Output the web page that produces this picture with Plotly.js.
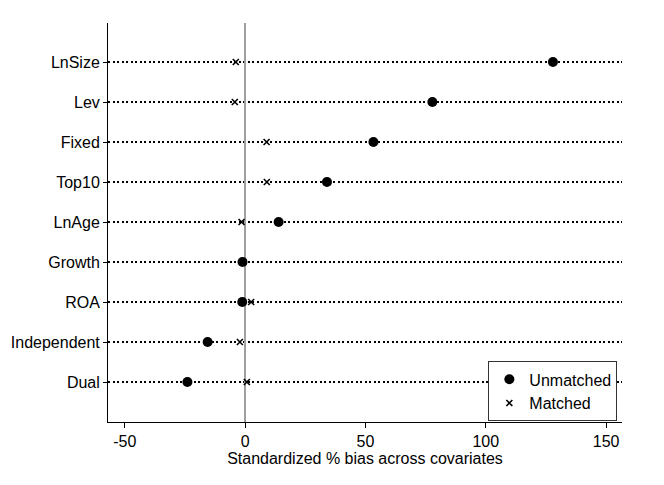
<!DOCTYPE html>
<html>
<head>
<meta charset="utf-8">
<script src="https://cdn.plot.ly/plotly-3.0.1.min.js"></script>
<style>html,body{margin:0;padding:0;background:#fff;}#chart{width:664px;height:485px;}</style>
</head>
<body>
<div id="chart"></div>
<script>
const covariates = ["LnSize", "Lev", "Fixed", "Top10", "LnAge", "Growth", "ROA", "Independent", "Dual"];
const unmatched = [127.9, 77.8, 53.3, 34.0, 13.9, -1.1, -1.2, -15.6, -24.0];
const matched = [-3.9, -4.3, 8.9, 9.0, -1.5, -0.8, 2.5, -2.2, 0.7];
const xTicks = [-50, 0, 50, 100, 150];

const fam = "Liberation Sans, Arial, Helvetica, sans-serif";
const font = {family: fam, size: 16, color: "#000"};

const traces = [
  {
    type: "scatter", mode: "markers", name: "Unmatched",
    x: unmatched, y: covariates,
    marker: {symbol: "circle", size: 10, color: "#000"},
    cliponaxis: false
  },
  {
    type: "scatter", mode: "markers", name: "Matched",
    x: matched, y: covariates,
    marker: {symbol: "x-thin", size: 6, color: "#000", line: {width: 1.6, color: "#000"}},
    cliponaxis: false
  }
];

const layout = {
  width: 664, height: 485,
  margin: {l: 108, r: 42, t: 23, b: 63},
  paper_bgcolor: "#fff", plot_bgcolor: "#fff",
  font: font,
  showlegend: true,
  legend: {
    x: 0.74, y: 0.152, xanchor: "left", yanchor: "top",
    bgcolor: "#fff", bordercolor: "#333", borderwidth: 1,
    font: {family: fam, size: 16, color: "#000"},
    itemwidth: 30,
    tracegroupgap: 0
  },
  xaxis: {
    range: [-57, 156.6],
    tickvals: xTicks,
    ticktext: xTicks.map(String),
    ticks: "outside", ticklen: 5, tickwidth: 1, tickcolor: "#000",
    showline: true, linecolor: "#000", linewidth: 1,
    showgrid: false,
    zeroline: true, zerolinecolor: "#a0a0a0", zerolinewidth: 1.5,
    tickfont: {family: fam, size: 16, color: "#000"},
    title: {text: "Standardized % bias across covariates", font: {family: fam, size: 16, color: "#000"}, standoff: 2}
  },
  yaxis: {
    type: "category",
    categoryorder: "array", categoryarray: covariates,
    range: [9.0, -0.975],
    ticks: "outside", ticklen: 4, tickwidth: 1, tickcolor: "#000",
    showline: true, linecolor: "#000", linewidth: 1,
    showgrid: true, gridcolor: "#000", gridwidth: 2, griddash: "2px,2.5px",
    zeroline: false,
    tickfont: {family: fam, size: 16, color: "#000"},
    ticklabelstandoff: 0
  }
};

Plotly.newPlot("chart", traces, layout, {displayModeBar: false, staticPlot: true});
</script>
</body>
</html>
